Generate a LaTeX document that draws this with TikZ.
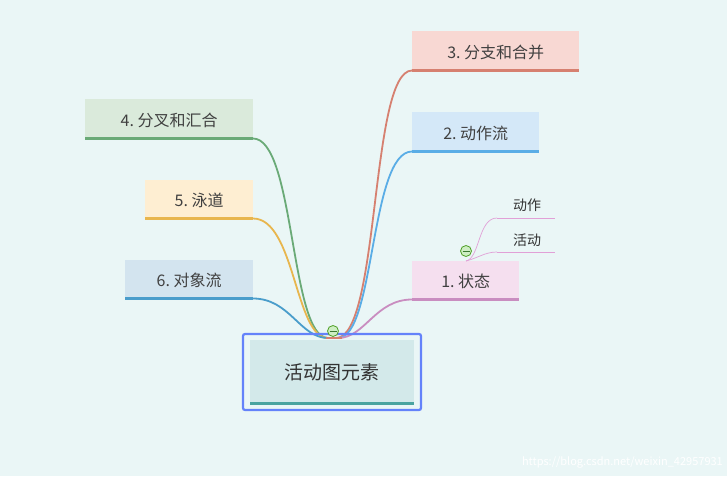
\documentclass[tikz,border=0pt]{standalone}
\usepackage{fontspec}
\setmainfont{Noto Sans CJK SC}
\begin{document}
\begin{tikzpicture}[x=1pt,y=-1pt,
  topic/.style={anchor=north west,inner sep=0pt,text=black!75,font=\fontsize{16}{18}\selectfont},
  bar/.style={line width=3pt},
  conn/.style={line width=1.8pt}]
\definecolor{bg}{HTML}{EAF6F6}
\fill[bg] (0,0) rectangle (727,476);
\useasboundingbox (0,0) rectangle (727,476);
% right topics
\fill[fill={rgb,255:red,248;green,216;blue,211}] (412,31) rectangle (579,71);
\node[topic] (n3) at (412,31) {\makebox[167pt][c]{\rule{0pt}{40pt}\raisebox{13pt}{3.\ 分支和合并}}};
\draw[bar,color={rgb,255:red,214;green,128;blue,112}] (412,70.5) -- (579,70.5);
\fill[fill={rgb,255:red,212;green,232;blue,248}] (412,112) rectangle (539,152);
\node[topic] (n2) at (412,112) {\makebox[127pt][c]{\rule{0pt}{40pt}\raisebox{13pt}{2.\ 动作流}}};
\draw[bar,color={rgb,255:red,90;green,173;blue,230}] (412,151.5) -- (539,151.5);
\fill[fill={rgb,255:red,245;green,223;blue,239}] (412,261) rectangle (519,300);
\node[topic] (n1) at (412,261) {\makebox[107pt][c]{\rule{0pt}{39pt}\raisebox{13pt}{1.\ 状态}}};
\draw[bar,color={rgb,255:red,201;green,141;blue,192}] (412,299.5) -- (519,299.5);
% left topics
\fill[fill={rgb,255:red,218;green,234;blue,219}] (85,99) rectangle (253,139);
\node[topic] (n4) at (85,99) {\makebox[168pt][c]{\rule{0pt}{40pt}\raisebox{13pt}{4.\ 分叉和汇合}}};
\draw[bar,color={rgb,255:red,106;green,170;blue,119}] (85,138.5) -- (253,138.5);
\fill[fill={rgb,255:red,254;green,238;blue,210}] (145,180) rectangle (253,219);
\node[topic] (n5) at (145,180) {\makebox[108pt][c]{\rule{0pt}{39pt}\raisebox{13pt}{5.\ 泳道}}};
\draw[bar,color={rgb,255:red,232;green,182;blue,78}] (145,218.5) -- (253,218.5);
\fill[fill={rgb,255:red,211;green,228;blue,239}] (125,260) rectangle (253,299);
\node[topic] (n6) at (125,260) {\makebox[128pt][c]{\rule{0pt}{39pt}\raisebox{13pt}{6.\ 对象流}}};
\draw[bar,color={rgb,255:red,74;green,157;blue,203}] (125,298.5) -- (253,298.5);
% connectors
\draw[conn,color={rgb,255:red,214;green,128;blue,112}] (412,70.5) .. controls (370,70.5) and (380,338) .. (336,338);
\draw[conn,color={rgb,255:red,90;green,173;blue,230}] (412,151.5) .. controls (370,151.5) and (375,338) .. (338,338);
\draw[conn,color={rgb,255:red,201;green,141;blue,192}] (412,299.5) .. controls (375,299.5) and (365,338) .. (338,338);
\draw[conn,color={rgb,255:red,106;green,170;blue,119}] (253,138.5) .. controls (295,138.5) and (290,338) .. (328,338);
\draw[conn,color={rgb,255:red,232;green,182;blue,78}] (253,218.5) .. controls (295,218.5) and (295,338) .. (328,338);
\draw[conn,color={rgb,255:red,74;green,157;blue,203}] (253,298.5) .. controls (290,298.5) and (300,338) .. (328,338);
\draw[line width=2.5pt,color={rgb,255:red,214;green,128;blue,112}] (326,338) -- (342,338);
% subtopics
\node[inner sep=0pt,text=black!80,font=\fontsize{14}{16}\selectfont] (s1) at (527,205) {动作};
\node[inner sep=0pt,text=black!80,font=\fontsize{14}{16}\selectfont] (s2) at (527,240) {活动};
\tikzset{sub/.style={color={rgb,255:red,225;green,160;blue,215},line width=0.7pt}}
\coordinate (sr) at (466,261);
\draw[sub] (497,218) -- (555,218);
\draw[sub] (497,252) -- (555,252);
\draw[sub] (sr) .. controls (480,258) and (478,218) .. (497,218);
\draw[sub] (sr) .. controls (478,258) and (485,252) .. (497,252);
\node[circle,draw={rgb,255:red,80;green,160;blue,40},fill={rgb,255:red,205;green,238;blue,195},inner sep=0pt,minimum size=11pt,line width=0.8pt] (k1) at (466,251) {};
\draw[line width=0.8pt,color={rgb,255:red,60;green,120;blue,50}] (462.5,251) -- (469.5,251);
% central
\draw[line width=2.2pt,color={rgb,255:red,100;green,130;blue,250},rounded corners=2pt] (243,334) rectangle (421,410);
\fill[fill={rgb,255:red,211;green,233;blue,234}] (250,340) rectangle (414,405);
\node[inner sep=0pt,text=black!80,font=\fontsize{19}{22}\selectfont] (root) at (332,372) {活动图元素};
\draw[line width=3pt,color={rgb,255:red,74;green,164;blue,160}] (250,403.5) -- (414,403.5);
\node[circle,draw={rgb,255:red,80;green,160;blue,40},fill={rgb,255:red,205;green,238;blue,195},inner sep=0pt,minimum size=11pt,line width=0.8pt] (k0) at (333,331) {};
\draw[line width=0.8pt,color={rgb,255:red,60;green,120;blue,50}] (329.5,331) -- (336.5,331);
\node[anchor=south east,inner sep=2pt,text=white,font=\fontsize{11}{12}\selectfont] (wm) at (725,470) {https://blog.csdn.net/weixin\_42957931};
\end{tikzpicture}
\end{document}
